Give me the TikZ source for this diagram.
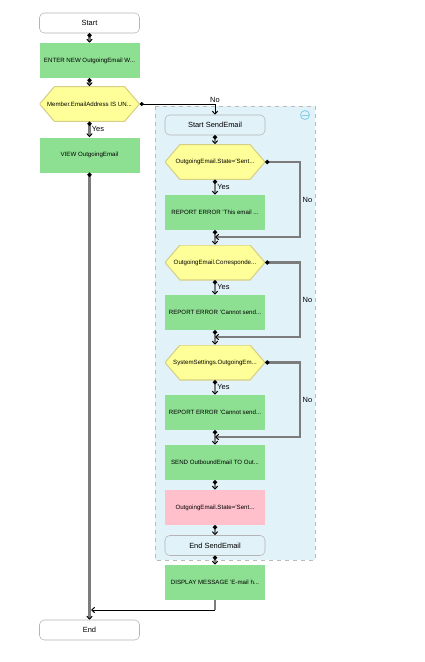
\documentclass[tikz,border=0pt]{standalone}
\usepackage{fontspec}
\setmainfont{Liberation Sans}
\usetikzlibrary{arrows.meta}

\definecolor{actgreen}{HTML}{8DDF92}
\definecolor{actpink}{HTML}{FFC0CB}
\definecolor{condfill}{HTML}{FFFF99}
\definecolor{condline}{HTML}{D6CF86}
\definecolor{termline}{HTML}{B4B4B4}
\definecolor{boxfill}{HTML}{E1F2F9}
\definecolor{boxline}{HTML}{BBBBBB}
\definecolor{linkgray}{HTML}{7C7C7C}
\definecolor{iconblue}{HTML}{7FCDEA}

\tikzset{
  small/.style={font=\fontsize{4.6}{5}\selectfont},
  big/.style={font=\fontsize{5.6}{6.5}\selectfont},
  act/.style={rectangle, fill=actgreen, minimum width=75pt, minimum height=26.25pt, inner sep=1pt, small},
  cond/.style={rectangle, minimum width=75pt, minimum height=26.25pt, inner sep=1pt, small,
    path picture={
      \draw[condline, fill=condfill, line width=0.8pt] (path picture bounding box.west)
        -- ([xshift=11.25pt]path picture bounding box.north west)
        -- ([xshift=-11.25pt]path picture bounding box.north east)
        -- (path picture bounding box.east)
        -- ([xshift=-11.25pt]path picture bounding box.south east)
        -- ([xshift=11.25pt]path picture bounding box.south west) -- cycle;}},
  term/.style={rectangle, rounded corners=3.5pt, draw=termline, fill=white, minimum width=75pt, minimum height=15pt, big},
  dot/.tip={Circle[length=3pt 0 0, width=3pt 0 0, black]},
  tip/.tip={Straight Barb[length=2.2pt 0 0, width=4pt 0 0, line width=0.7pt, black]},
  link/.style={draw=linkgray, line width=1.6pt, dot-tip},
  jump/.style={draw=black, line width=0.55pt},
  lbl/.style={big, inner sep=1pt, anchor=west}
}

\begin{document}
\begin{tikzpicture}[x=0.75pt,y=-0.75pt]
  \useasboundingbox (0,0) rectangle (425,662);

  % Group SendEmail
  \draw[dashed, draw=boxline, fill=boxfill] (155,106) rectangle (315,560);
  \draw[iconblue, line width=0.6pt] (305,115) circle [radius=4.5];
  \draw[iconblue, line width=0.6pt] (301.5,115) -- (308.5,115);

  % Main flow
  \node[term] (start) at (89.5,23) {Start};
  \node[act] (enter) at (89.5,60.5) {ENTER NEW OutgoingEmail W...};
  \node[cond] (dec) at (89.5,104) {Member.EmailAddress IS UN...};
  \node[act] (view) at (89.5,155) {VIEW OutgoingEmail};
  \node[term] (end) at (89.5,630) {End};

  % Inside SendEmail
  \node[term, fill=boxfill] (ss) at (215,125) {Start SendEmail};
  \node[cond] (d1) at (215,162) {OutgoingEmail.State='Sent...};
  \node[act] (e1) at (215,212.5) {REPORT ERROR 'This email ...};
  \node[cond] (d2) at (215,262.5) {OutgoingEmail.Corresponde...};
  \node[act] (e2) at (215,312.5) {REPORT ERROR 'Cannot send...};
  \node[cond] (d3) at (215,362.5) {SystemSettings.OutgoingEm...};
  \node[act] (e3) at (215,412.5) {REPORT ERROR 'Cannot send...};
  \node[act] (send) at (215,462.5) {SEND OutboundEmail TO Out...};
  \node[act, fill=actpink] (state) at (215,507.5) {OutgoingEmail.State='Sent...};
  \node[term, fill=boxfill] (es) at (215,545.5) {End SendEmail};
  \node[act] (disp) at (215,582.5) {DISPLAY MESSAGE 'E-mail h...};

  \coordinate (m1) at (215,237);
  \coordinate (m2) at (215,337);
  \coordinate (m3) at (215,437);
  \coordinate (j1) at (215,610);
  \coordinate (j2) at (91,610);

  % Connectors
  \draw[link] (start.south) -- (enter.north);
  \draw[link] (enter.south) -- (dec.north);
  \draw[link] (dec.south) -- (view.north) node[lbl, pos=0.45] {Yes};
  \draw[link] (view.south) -- (end.north);
  \draw[jump, dot-tip] (dec.east) -| (ss.north) node[big, pos=0.62, above=-0.5pt] {No};

  \draw[link] (ss.south) -- (d1.north);
  \draw[link] (d1.south) -- (e1.north) node[lbl, pos=0.45] {Yes};
  \draw[link] (e1.south) -- (d2.north);
  \draw[link] (d2.south) -- (e2.north) node[lbl, pos=0.45] {Yes};
  \draw[link] (e2.south) -- (d3.north);
  \draw[link] (d3.south) -- (e3.north) node[lbl, pos=0.45] {Yes};
  \draw[link] (e3.south) -- (send.north);
  \draw[link] (send.south) -- (state.north);
  \draw[link] (state.south) -- (es.north);
  \draw[link] (es.south) -- (disp.north);

  \draw[link] (d1.east) -- ++(35,0) |- (m1) node[lbl, pos=0.25] {No};
  \draw[link] (d2.east) -- ++(35,0) |- (m2) node[lbl, pos=0.25] {No};
  \draw[link] (d3.east) -- ++(35,0) |- (m3) node[lbl, pos=0.25] {No};

  \draw[link, -] (disp.south) -- (j1);
  \draw[jump, -tip] (j1) -- (j2);
\end{tikzpicture}
\end{document}
